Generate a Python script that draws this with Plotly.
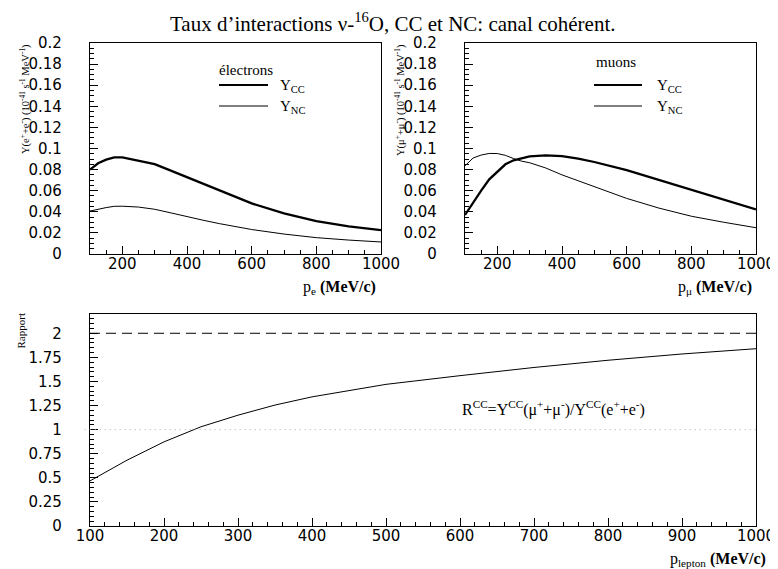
import plotly.graph_objects as go

# page body has an 8px default margin: the figure is drawn from (8, 8)
OFF = 8
W, H = 778 - OFF, 569 - OFF

# ---- data ----
p_e = [100, 125, 150, 175, 200, 250, 300, 350, 400, 450, 500, 600, 700, 800, 900, 1000]
y_e_cc = [0.080, 0.086, 0.0895, 0.0915, 0.0915, 0.0885, 0.0852, 0.079, 0.0728, 0.0665,
          0.0600, 0.0480, 0.0385, 0.0312, 0.0262, 0.0226]
y_e_nc = [0.0407, 0.0425, 0.0440, 0.0452, 0.0453, 0.0445, 0.0424, 0.0390, 0.0353, 0.0320,
          0.0288, 0.0232, 0.0189, 0.0155, 0.0132, 0.0114]

p_mu = [100, 125, 150, 175, 200, 225, 250, 275, 300, 350, 400, 450, 500, 600, 700, 800, 900, 1000]
y_mu_cc = [0.037, 0.049, 0.060, 0.0708, 0.078, 0.085, 0.0888, 0.091, 0.0925, 0.0935, 0.0928,
           0.0905, 0.0872, 0.0795, 0.0703, 0.0612, 0.0520, 0.0423]
y_mu_nc = [0.0836, 0.091, 0.0938, 0.0953, 0.0952, 0.0935, 0.0905, 0.0880, 0.0865, 0.0815,
           0.0750, 0.0695, 0.0634, 0.0527, 0.0435, 0.0358, 0.0301, 0.0249]

p_lep = [100, 150, 200, 250, 300, 350, 400, 500, 600, 700, 800, 900, 1000]
ratio = [0.468, 0.683, 0.873, 1.03, 1.15, 1.255, 1.34, 1.47, 1.56, 1.645, 1.72, 1.785, 1.84]

top_y_ticks = [0, 0.02, 0.04, 0.06, 0.08, 0.1, 0.12, 0.14, 0.16, 0.18, 0.2]
top_y_labels = ["0", "0.02", "0.04", "0.06", "0.08", "0.1", "0.12", "0.14", "0.16", "0.18", "0.2"]
top_x_ticks = [200, 400, 600, 800, 1000]
bot_y_ticks = [0, 0.25, 0.5, 0.75, 1, 1.25, 1.5, 1.75, 2]
bot_y_labels = ["0", "0.25", "0.5", "0.75", "1", "1.25", "1.5", "1.75", "2"]
bot_x_ticks = [100, 200, 300, 400, 500, 600, 700, 800, 900, 1000]

SERIF = "Liberation Serif"
SANS = "DejaVu Sans"


def px(x):
    return (x - OFF) / W


def py(y):
    return 1 - (y - OFF) / H


fig = go.Figure()

fig.add_trace(go.Scatter(x=p_e, y=y_e_cc, mode="lines", line=dict(color="black", width=2.3),
                         xaxis="x", yaxis="y", showlegend=False))
fig.add_trace(go.Scatter(x=p_e, y=y_e_nc, mode="lines", line=dict(color="black", width=1),
                         xaxis="x", yaxis="y", showlegend=False))
fig.add_trace(go.Scatter(x=p_mu, y=y_mu_cc, mode="lines", line=dict(color="black", width=2.3),
                         xaxis="x2", yaxis="y2", showlegend=False))
fig.add_trace(go.Scatter(x=p_mu, y=y_mu_nc, mode="lines", line=dict(color="black", width=1),
                         xaxis="x2", yaxis="y2", showlegend=False))
fig.add_trace(go.Scatter(x=p_lep, y=ratio, mode="lines", line=dict(color="black", width=1),
                         xaxis="x3", yaxis="y3", showlegend=False))

tickfont = dict(family=SANS, size=15, color="black")
common = dict(showline=True, linecolor="black", linewidth=1.2, mirror=True, showgrid=False,
              zeroline=False, ticks="inside", tickcolor="black", tickfont=tickfont,
              automargin=False)


def xax(domain, anchor, vals, minor_dtick):
    return dict(common, domain=domain, anchor=anchor, range=[100, 1000], tickvals=vals,
                ticklen=8, ticklabelstandoff=-4,
                minor=dict(ticks="inside", dtick=minor_dtick, tick0=0, ticklen=4,
                           tickcolor="black"))


def yax(domain, anchor, rng, vals, labels, minor_dtick):
    return dict(common, domain=domain, anchor=anchor, range=rng, tickvals=vals,
                ticktext=labels, ticklen=8, ticklabelstandoff=24,
                minor=dict(ticks="inside", dtick=minor_dtick, tick0=0, ticklen=4,
                           tickcolor="black"))


top_dom = [py(254), py(43)]
bot_dom = [py(526), py(314)]

fig.update_layout(
    width=W, height=H,
    margin=dict(l=0, r=0, t=0, b=0, autoexpand=False),
    paper_bgcolor="white", plot_bgcolor="white",
    xaxis=xax([px(90), px(381)], "y", top_x_ticks, 50),
    yaxis=yax(top_dom, "x", [0, 0.2], top_y_ticks, top_y_labels, 0.005),
    xaxis2=xax([px(465), px(756)], "y2", top_x_ticks, 50),
    yaxis2=yax(top_dom, "x2", [0, 0.2], top_y_ticks, top_y_labels, 0.005),
    xaxis3=xax([px(90), px(756)], "y3", bot_x_ticks, 20),
    yaxis3=yax(bot_dom, "x3", [0, 2.2], bot_y_ticks, bot_y_labels, 0.05),
)

shapes = []
# reference lines in ratio panel
shapes.append(dict(type="line", xref="x3 domain", yref="y3", x0=0, x1=1, y0=2, y1=2,
                   line=dict(color="black", width=1, dash="10px,6px")))
shapes.append(dict(type="line", xref="x3 domain", yref="y3", x0=-0.008, x1=1, y0=1, y1=1,
                   line=dict(color="#aaaaaa", width=1, dash="1px,4px")))
# legend samples
for (x0, x1) in [(219, 268), (594, 642)]:
    shapes.append(dict(type="line", xref="paper", yref="paper", x0=px(x0), x1=px(x1),
                       y0=py(85), y1=py(85), line=dict(color="black", width=2.2)))
    shapes.append(dict(type="line", xref="paper", yref="paper", x0=px(x0), x1=px(x1),
                       y0=py(106), y1=py(106), line=dict(color="black", width=1)))
fig.update_layout(shapes=shapes)

ann = []


def text(x, y, s, size=13, xanchor="left", yanchor="middle", angle=0):
    ann.append(dict(xref="paper", yref="paper", x=px(x), y=py(y), text=s, showarrow=False,
                    xanchor=xanchor, yanchor=yanchor, textangle=angle,
                    font=dict(family=SERIF, size=size, color="black")))


# title
text(393, 23, "Taux d’interactions ν-<sup>16</sup>O, CC et NC: canal cohérent.", size=21,
     xanchor="center")
# legends
text(217, 70, "électrons", 15)
text(278, 86, "Y<sub>CC</sub>", 15)
text(278, 107, "Y<sub>NC</sub>", 15)
text(594, 62, "muons", 15)
text(655, 86, "Y<sub>CC</sub>", 15)
text(655, 107, "Y<sub>NC</sub>", 15)
# axis titles
text(378, 287, "p<sub>e</sub> <b>(MeV/c)</b>", 16, xanchor="right")
text(754, 287, "p<sub>μ</sub> <b>(MeV/c)</b>", 16, xanchor="right")
text(768, 559, "p<sub>lepton</sub> <b>(MeV/c)</b>", 16, xanchor="right")
text(25, 42, "Y(e<sup>+</sup>+e<sup>-</sup>) (10<sup>-41</sup> s<sup>-1</sup> MeV<sup>-1</sup>)",
     10.5, xanchor="center", yanchor="top", angle=-90)
text(400, 42, "Y(μ<sup>+</sup>+μ<sup>-</sup>) (10<sup>-41</sup> s<sup>-1</sup> MeV<sup>-1</sup>)",
     10.5, xanchor="center", yanchor="top", angle=-90)
text(20, 312, "Rapport", 11, xanchor="center", yanchor="top", angle=-90)
# ratio formula
text(460, 408, "R<sup>CC</sup>=Y<sup>CC</sup>(μ<sup>+</sup>+μ<sup>-</sup>)/Y<sup>CC</sup>(e<sup>+</sup>+e<sup>-</sup>)",
     16)

fig.update_layout(annotations=ann)

fig.write_html("out.html")
